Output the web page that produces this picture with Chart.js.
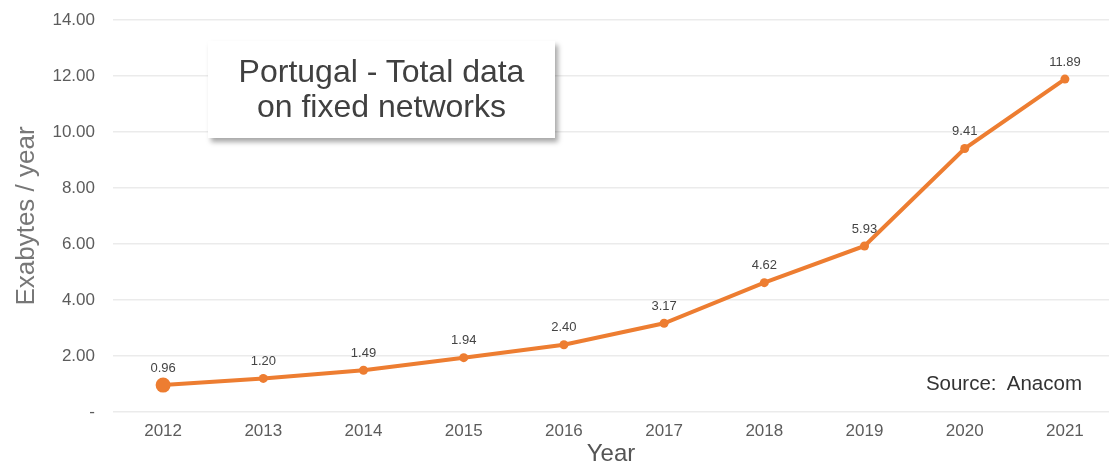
<!DOCTYPE html>
<html>
<head>
<meta charset="utf-8">
<script src="https://cdn.jsdelivr.net/npm/chart.js@4/dist/chart.umd.min.js"></script>
<style>
  html, body { margin: 0; padding: 0; background: #fff; }
  #wrap { position: relative; width: 1109px; height: 469px; }
  #title-box {
    position: absolute; left: 208px; top: 41px; width: 347px; height: 97px;
    background: #fff; box-shadow: 3px 4px 5px rgba(0,0,0,0.35);
    font-family: "Liberation Sans", Arial, sans-serif; font-size: 32px;
    color: #404040; text-align: center; line-height: 35px;
    box-sizing: border-box; padding-top: 13px;
  }
  #source {
    position: absolute; right: 27px; top: 371px;
    font-family: "Liberation Sans", Arial, sans-serif; font-size: 20.5px; color: #333;
  }
</style>
</head>
<body>
<div id="wrap">
  <canvas id="chart" width="1109" height="469"></canvas>
  <div id="title-box">Portugal - Total data<br>on fixed networks</div>
  <div id="source">Source:&nbsp; Anacom</div>
</div>
<script>
const years = [2012, 2013, 2014, 2015, 2016, 2017, 2018, 2019, 2020, 2021];
const exabytes = [0.96, 1.20, 1.49, 1.94, 2.40, 3.17, 4.62, 5.93, 9.41, 11.89];
const yTicks = [0, 2, 4, 6, 8, 10, 12, 14];

const orange = '#ED7D31';
const fontFamily = '"Liberation Sans", Arial, sans-serif';

// value labels above each point
const pointLabels = {
  id: 'pointLabels',
  afterDatasetsDraw(chart) {
    const ctx = chart.ctx;
    const meta = chart.getDatasetMeta(0);
    ctx.save();
    ctx.font = '13px ' + fontFamily;
    ctx.fillStyle = '#444';
    ctx.textAlign = 'center';
    ctx.textBaseline = 'middle';
    meta.data.forEach((pt, i) => {
      ctx.fillText(exabytes[i].toFixed(2), pt.x, pt.y - 17);
    });
    ctx.restore();
  }
};

new Chart(document.getElementById('chart'), {
  type: 'line',
  data: {
    datasets: [{
      data: years.map((y, i) => ({ x: y, y: exabytes[i] })),
      borderColor: orange,
      backgroundColor: orange,
      borderWidth: 4,
      pointRadius: years.map((y, i) => i === 0 ? 7.5 : 4.5),
      pointBorderWidth: 0,
      tension: 0
    }]
  },
  options: {
    responsive: false,
    animation: false,
    layout: { autoPadding: false, padding: { top: 20, right: 0, bottom: 0, left: 0 } },
    plugins: { legend: { display: false }, tooltip: { enabled: false } },
    scales: {
      x: {
        type: 'linear',
        min: 2011.5,
        max: 2021.44,
        afterBuildTicks: scale => { scale.ticks = years.map(v => ({ value: v })); },
        afterFit: scale => { scale.height = 57; },
        grid: { display: false, drawTicks: false },
        border: { display: false },
        ticks: {
          padding: 9,
          color: '#5c5c5c',
          font: { family: fontFamily, size: 17 },
          callback: v => String(v)
        },
        title: {
          display: true,
          text: 'Year',
          color: '#555',
          padding: { top: 0, bottom: 0 },
          font: { family: fontFamily, size: 24 }
        }
      },
      y: {
        min: 0,
        max: 14,
        afterBuildTicks: scale => { scale.ticks = yTicks.map(v => ({ value: v })); },
        afterFit: scale => { scale.width = 113; },
        // invisible tick marks keep the labels clear of the plot area
        grid: { color: '#ebebeb', lineWidth: 1.5, drawTicks: true, tickLength: 16, tickColor: 'rgba(0,0,0,0)' },
        border: { display: false },
        ticks: {
          padding: 2,
          color: '#5c5c5c',
          font: { family: fontFamily, size: 17 },
          callback: v => v === 0 ? '-' : v.toFixed(2)
        },
        title: {
          display: true,
          text: 'Exabytes / year',
          color: '#777',
          padding: { top: 11, bottom: 0 },
          font: { family: fontFamily, size: 26 }
        }
      }
    }
  },
  plugins: [pointLabels]
});
</script>
</body>
</html>
